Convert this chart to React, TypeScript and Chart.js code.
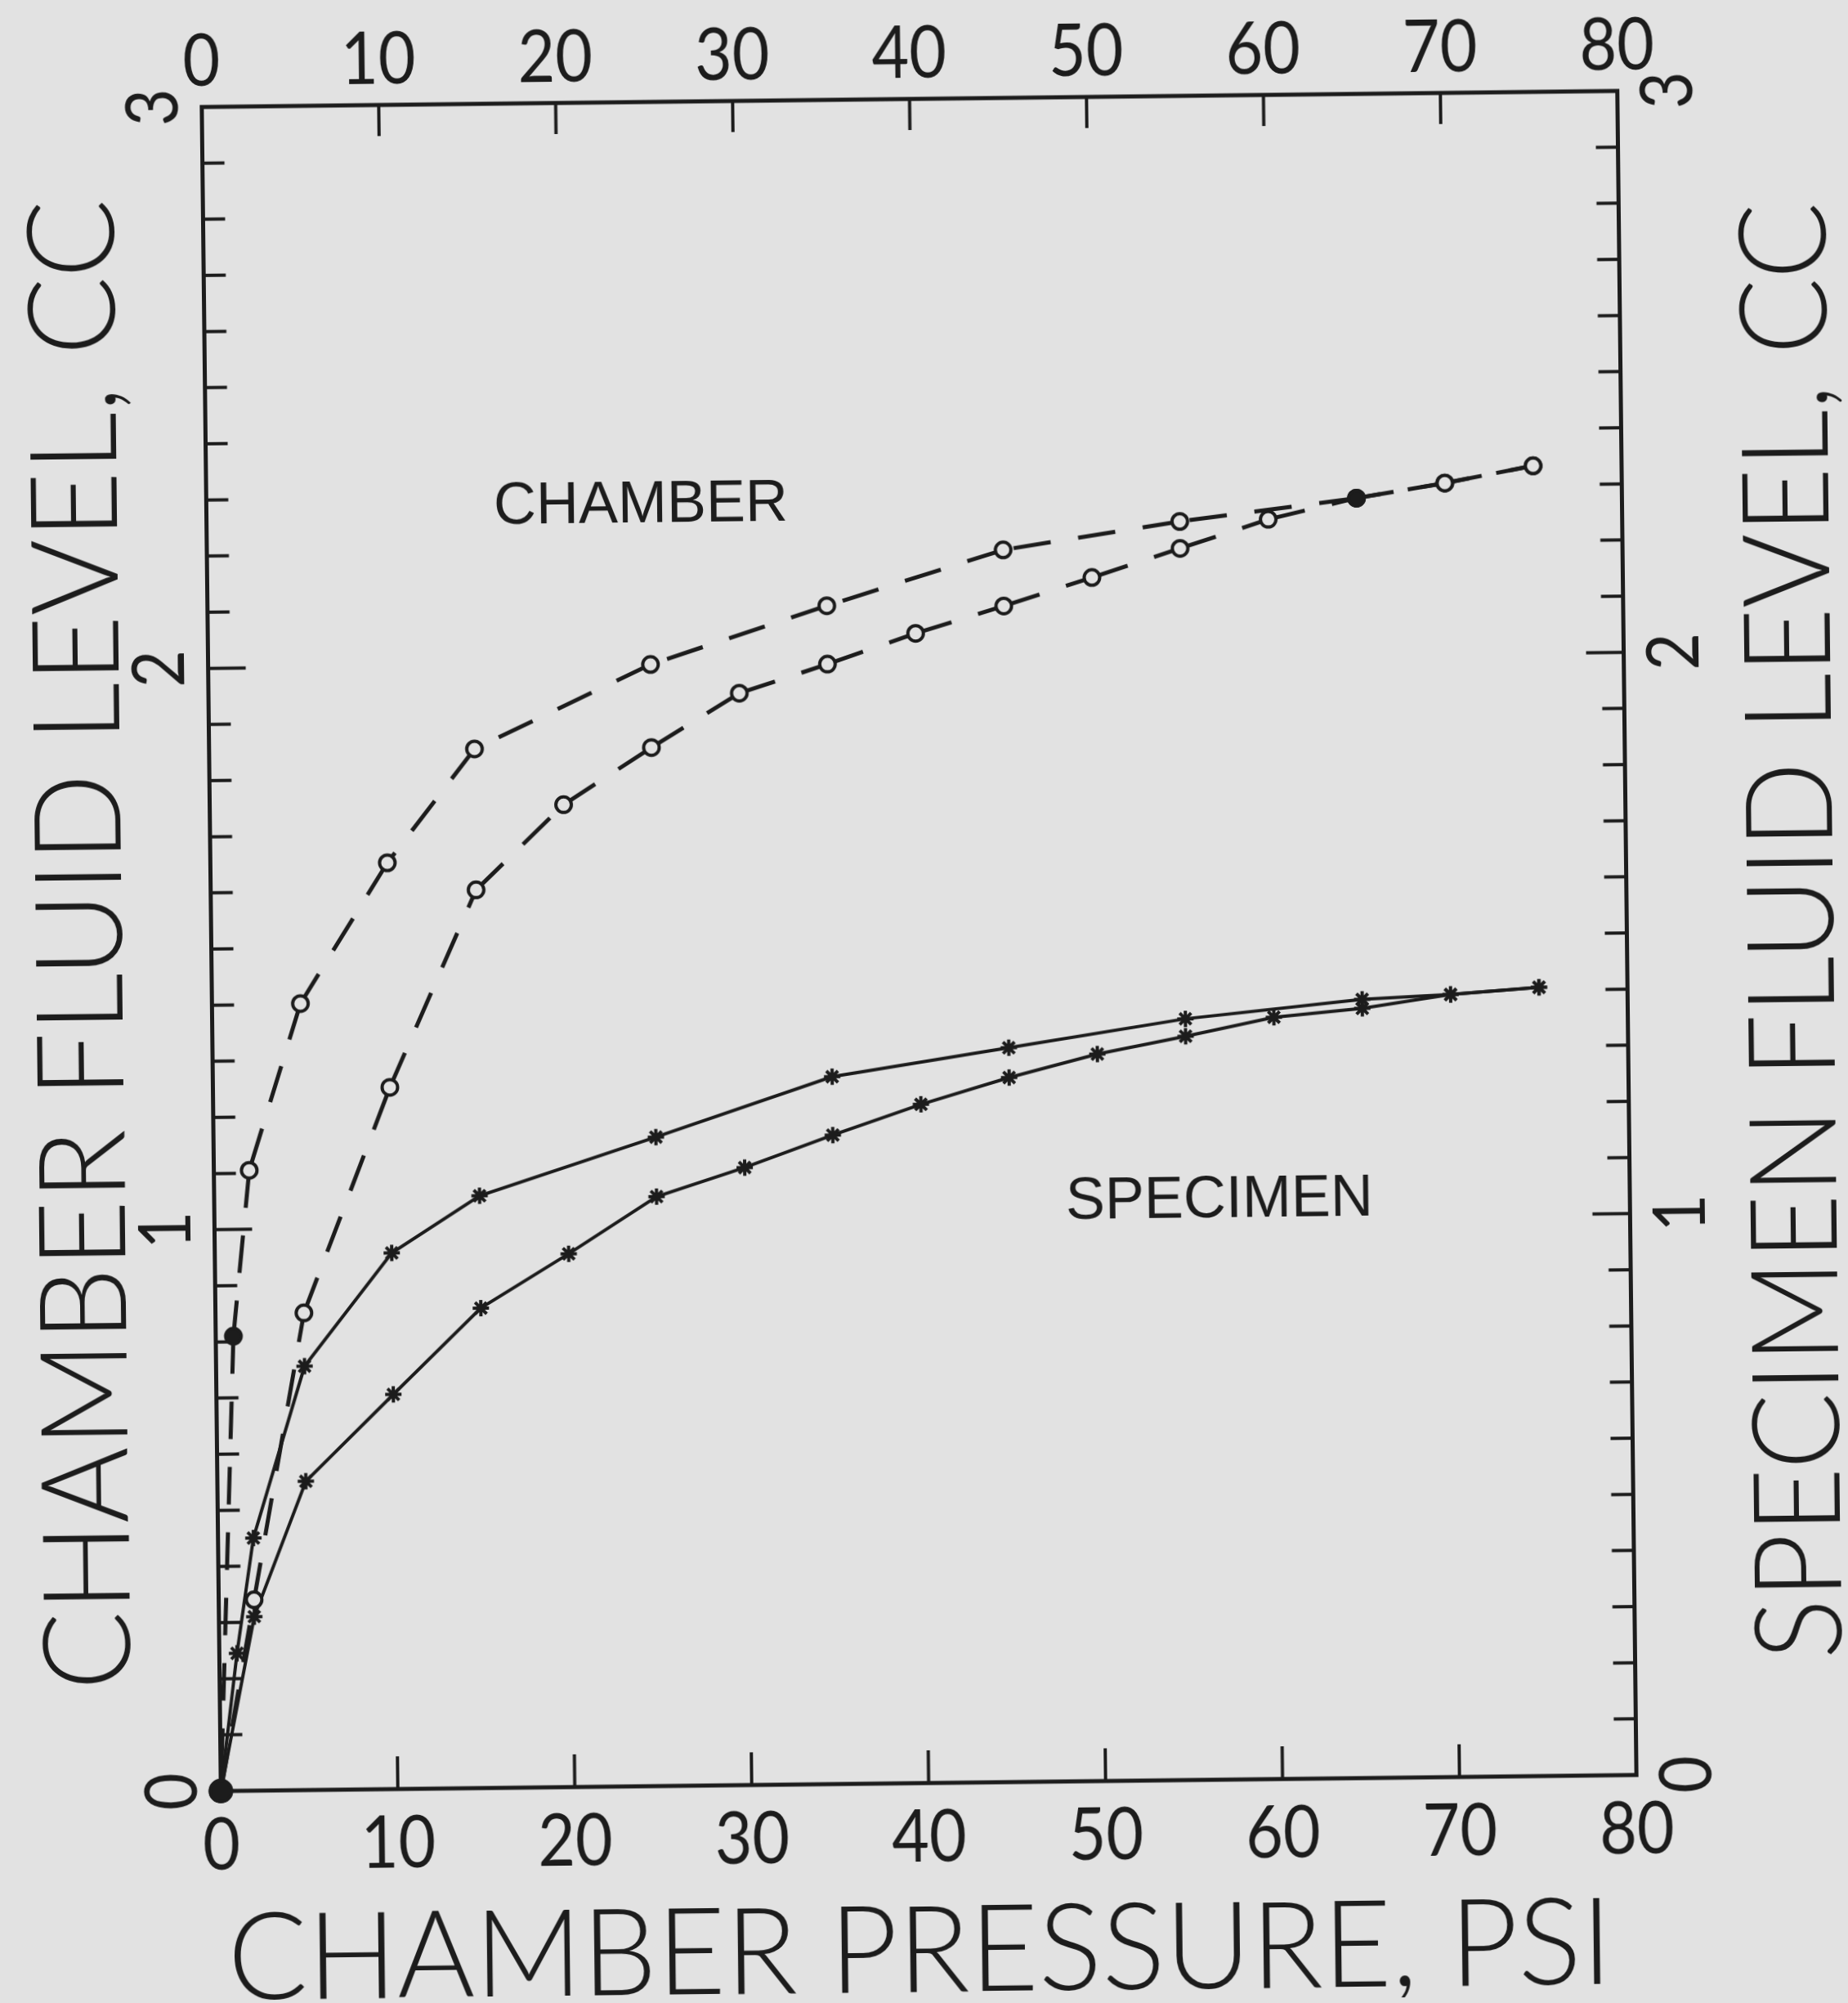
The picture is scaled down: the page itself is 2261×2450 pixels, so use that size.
import React, { useEffect, useRef } from "react";
import { Chart, registerables } from "chart.js";

Chart.register(...registerables);

// ---------------- data ----------------
const psiTickValues = [0, 10, 20, 30, 40, 50, 60, 70, 80];
const psiTickLabels = ["0", "10", "20", "30", "40", "50", "60", "70", "80"];
const levelTickValues = [0, 1, 2, 3];
const levelTickLabels = ["0", "1", "2", "3"];
const levelMinorStep = 0.1;

// Chamber fluid level, loading branch (lower dashed curve)
const chamberLoadPsi = [0, 2, 5, 10, 15, 20, 25, 30, 35, 40, 45, 50, 55, 60, 65, 70, 75];
const chamberLoadLevel = [0, 0.34, 0.85, 1.25, 1.6, 1.75, 1.85, 1.945, 1.995, 2.048, 2.095, 2.144, 2.194, 2.244, 2.28, 2.305, 2.334];

// Chamber fluid level, unloading branch (upper dashed curve)
const chamberUnloadPsi = [75, 70, 65, 55, 45, 35, 25, 15, 10, 5, 2, 1, 0];
const chamberUnloadLevel = [2.334, 2.305, 2.28, 2.242, 2.195, 2.099, 1.998, 1.851, 1.65, 1.401, 1.105, 0.81, 0];

// Specimen fluid level, loading branch (lower solid curve)
const specimenLoadPsi = [0, 2, 5, 10, 15, 20, 25, 30, 35, 40, 45, 50, 55, 60, 65, 70, 75];
const specimenLoadLevel = [0, 0.31, 0.55, 0.703, 0.855, 0.95, 1.05, 1.1, 1.156, 1.209, 1.255, 1.295, 1.325, 1.357, 1.371, 1.394, 1.405];

// Specimen fluid level, unloading branch (upper solid curve)
const specimenUnloadPsi = [75, 70, 65, 55, 45, 35, 25, 15, 10, 5, 2, 1, 0];
const specimenUnloadLevel = [1.405, 1.394, 1.387, 1.356, 1.308, 1.26, 1.156, 1.055, 0.955, 0.755, 0.45, 0.245, 0];

// chamber points drawn as solid dots
const chamberSolidPsi = [0, 1, 65];

// in-plot notes (psi, level)
const chamberNote = { text: "CHAMBER", psi: 24.55, level: 2.28 };
const specimenNote = { text: "SPECIMEN", psi: 56.8, level: 1.031 };

const xTitle = "CHAMBER PRESSURE, PSI";
const yTitle = "CHAMBER FLUID LEVEL, CC";
const y2Title = "SPECIMEN FLUID LEVEL, CC";

// ---------------- styling ----------------
const W = 2261;
const H = 2450;
const BG = "#e2e2e2";
const INK = "#1c1c1c";
const AREA = { left: 258.5, right: 1990.5, top: 121, bottom: 2181 };
const TILT_DEG = -0.65;
const TICK_FONT = 'Lato, "Liberation Sans", Arial, sans-serif';
const TITLE_FONT = 'Lato, "DejaVu Sans", sans-serif';
const NOTE_FONT = '"Liberation Sans", Arial, sans-serif';

function pts(xs: number[], ys: number[]) {
  return xs.map((x, i) => ({ x, y: ys[i] }));
}

function inkWidth(ctx: CanvasRenderingContext2D, font: string, text: string) {
  ctx.save();
  ctx.font = font;
  const m = ctx.measureText(text);
  ctx.restore();
  const w = (m.actualBoundingBoxLeft || 0) + (m.actualBoundingBoxRight || 0);
  return w > 0 ? w : m.width;
}

function drawText(
  ctx: CanvasRenderingContext2D,
  text: string,
  x: number,
  y: number,
  font: string,
  rot = 0,
  sx = 1
) {
  ctx.save();
  ctx.translate(x, y);
  ctx.rotate(rot);
  ctx.scale(sx, 1);
  ctx.font = font;
  ctx.fillStyle = INK;
  ctx.textAlign = "center";
  ctx.textBaseline = "middle";
  ctx.fillText(text, 0, 0);
  ctx.restore();
}

const paperPlugin = {
  id: "paperFrame",
  beforeDatasetsDraw(chart: any) {
    const { ctx, chartArea: a, scales } = chart;
    const x = scales.x;
    const y = scales.y;
    const y2 = scales.y2;
    ctx.save();
    ctx.strokeStyle = INK;
    ctx.lineWidth = 5;
    ctx.strokeRect(a.left, a.top, a.right - a.left, a.bottom - a.top);
    ctx.lineWidth = 4;
    ctx.beginPath();
    for (const v of psiTickValues) {
      if (v === x.min || v === x.max) continue;
      const px = x.getPixelForValue(v);
      ctx.moveTo(px, a.bottom);
      ctx.lineTo(px, a.bottom - 40);
      ctx.moveTo(px, a.top);
      ctx.lineTo(px, a.top + 38);
    }
    const n = Math.round((y.max - y.min) / levelMinorStep);
    for (let i = 1; i < n; i++) {
      const v = y.min + i * levelMinorStep;
      const len = i % 10 === 0 ? 46 : 27;
      const pl = y.getPixelForValue(v);
      const pr = y2.getPixelForValue(v);
      ctx.moveTo(a.left, pl);
      ctx.lineTo(a.left + len, pl);
      ctx.moveTo(a.right, pr);
      ctx.lineTo(a.right - len, pr);
    }
    ctx.stroke();
    ctx.restore();
  },
  afterDraw(chart: any) {
    const { ctx, chartArea: a, scales } = chart;
    const x = scales.x;
    const y = scales.y;
    const y2 = scales.y2;
    const up = -Math.PI / 2;

    const tickFont = `400 90px ${TICK_FONT}`;
    const tickSx = Math.min(1.15, Math.max(0.6, 86 / inkWidth(ctx, tickFont, "20")));
    psiTickValues.forEach((v, i) => {
      const px = x.getPixelForValue(v);
      drawText(ctx, psiTickLabels[i], px, a.bottom + 67, tickFont, 0, tickSx);
      drawText(ctx, psiTickLabels[i], px, a.top - 55, tickFont, 0, tickSx);
    });
    levelTickValues.forEach((v, i) => {
      drawText(ctx, levelTickLabels[i], a.left - 59, y.getPixelForValue(v), tickFont, up, tickSx);
      drawText(ctx, levelTickLabels[i], a.right + 62, y2.getPixelForValue(v), tickFont, up, tickSx);
    });

    const titleFont = `300 148px ${TITLE_FONT}`;
    const fit = (t: string, target: number) =>
      Math.min(1.3, Math.max(0.7, target / inkWidth(ctx, titleFont, t)));
    const cx = (a.left + a.right) / 2;
    const cy = (a.top + a.bottom) / 2;
    drawText(ctx, xTitle, cx - 13, a.bottom + 207, titleFont, 0, fit(xTitle, 1672));
    drawText(ctx, yTitle, a.left - 157, cy - 7, titleFont, up, fit(yTitle, 1812));
    drawText(ctx, y2Title, a.right + 205, cy, titleFont, up, fit(y2Title, 1773));

    const noteFont = `72px ${NOTE_FONT}`;
    drawText(ctx, chamberNote.text, x.getPixelForValue(chamberNote.psi), y.getPixelForValue(chamberNote.level), noteFont);
    drawText(ctx, specimenNote.text, x.getPixelForValue(specimenNote.psi), y.getPixelForValue(specimenNote.level), noteFont);
  },
};

function chamberDataset(label: string, data: { x: number; y: number }[]) {
  return {
    label,
    data,
    yAxisID: "y",
    borderColor: INK,
    borderWidth: 5,
    borderDash: [46, 34],
    segment: {
      borderDashOffset: (c: any) => (c.p0DataIndex % 2 === 0 ? 0 : 0.01),
    },
    pointStyle: "circle",
    pointRadius: (c: any) => (c.raw && c.raw.x === 0 ? 13 : 9.5),
    pointBorderWidth: 4,
    pointBorderColor: INK,
    pointBackgroundColor: (c: any) =>
      c.raw && chamberSolidPsi.includes(c.raw.x) ? INK : BG,
    tension: 0,
    fill: false,
    clip: false as any,
  };
}

function specimenDataset(label: string, data: { x: number; y: number }[]) {
  return {
    label,
    data,
    yAxisID: "y2",
    borderColor: INK,
    borderWidth: 4,
    pointStyle: "star",
    pointRadius: 10,
    pointBorderWidth: 4,
    pointBorderColor: INK,
    pointBackgroundColor: INK,
    tension: 0,
    fill: false,
    clip: false as any,
  };
}

export default function App() {
  const ref = useRef<HTMLCanvasElement>(null);

  useEffect(() => {
    const canvas = ref.current;
    if (!canvas) return;
    const chart = new Chart(canvas, {
      type: "line",
      data: {
        datasets: [
          chamberDataset("Chamber (loading)", pts(chamberLoadPsi, chamberLoadLevel)),
          chamberDataset("Chamber (unloading)", pts(chamberUnloadPsi, chamberUnloadLevel)),
          specimenDataset("Specimen (loading)", pts(specimenLoadPsi, specimenLoadLevel)),
          specimenDataset("Specimen (unloading)", pts(specimenUnloadPsi, specimenUnloadLevel)),
        ] as any,
      },
      options: {
        responsive: false,
        animation: false,
        devicePixelRatio: 1,
        layout: {
          padding: {
            left: AREA.left,
            right: W - AREA.right,
            top: AREA.top,
            bottom: H - AREA.bottom,
          },
        },
        scales: {
          x: { type: "linear", min: 0, max: 80, display: false },
          y: { type: "linear", min: 0, max: 3, display: false },
          y2: { type: "linear", min: 0, max: 3, display: false, position: "right" },
        },
        plugins: {
          legend: { display: false },
          tooltip: { enabled: false },
        },
      } as any,
      plugins: [paperPlugin],
    });
    return () => chart.destroy();
  }, []);

  return (
    <div
      style={{
        position: "absolute",
        left: 0,
        top: 0,
        width: W,
        height: H,
        background: BG,
        overflow: "hidden",
      }}
    >
      <canvas
        ref={ref}
        width={W}
        height={H}
        style={{
          display: "block",
          width: W,
          height: H,
          transform: `rotate(${TILT_DEG}deg)`,
          transformOrigin: `${(AREA.left + AREA.right) / 2}px ${(AREA.top + AREA.bottom) / 2}px`,
        }}
      />
    </div>
  );
}
